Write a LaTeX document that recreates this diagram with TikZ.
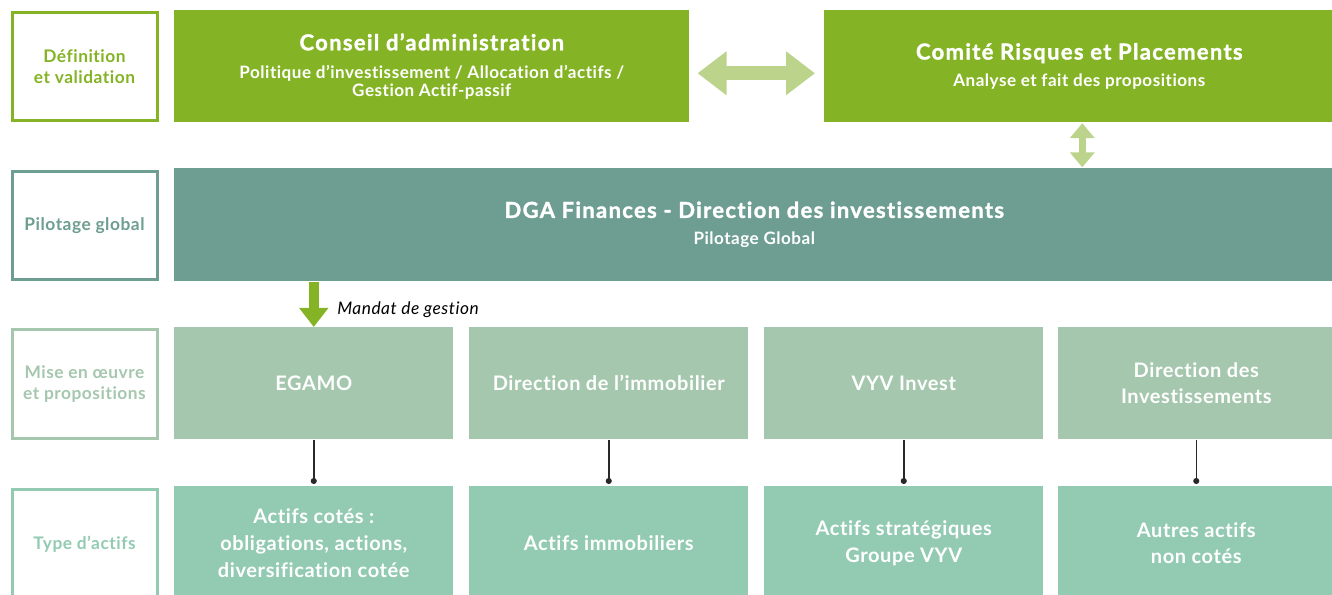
\documentclass[tikz,border=0pt]{standalone}
\usepackage{fontspec}
\setmainfont{Lato}[LetterSpace=3, Ligatures=NoCommon]
\newfontfamily\titlefam{Lato}[LetterSpace=6, Ligatures=NoCommon, BoldFeatures={FakeBold=1.5}]
\usetikzlibrary{arrows.meta}
\definecolor{cgreen}{RGB}{132,180,37}
\definecolor{clight}{RGB}{187,211,138}
\definecolor{cteal}{RGB}{110,158,145}
\definecolor{csage}{RGB}{165,199,174}
\definecolor{cmint}{RGB}{147,203,178}
\definecolor{cline}{RGB}{40,40,40}
\newcommand\titlef{\titlefam\bfseries\fontsize{16.5}{17}\selectfont}
\begin{document}
\begin{tikzpicture}[x=0.75pt,y=-0.75pt,
  box/.style={anchor=north west, inner sep=0pt, text=white, align=center,
    font=\bfseries\fontsize{15}{20}\selectfont},
  topbox/.style={box, font=\bfseries\fontsize{12.8}{13.5}\selectfont},
  lbl/.style={anchor=north west, draw=#1, text=#1, line width=2.25pt, fill=white, inner sep=0pt,
    align=center, minimum width=108.75pt, minimum height=81pt,
    font=\bfseries\fontsize{13}{15.75}\selectfont},
  link/.style={draw=cline, line width=1.1pt, -{Circle[length=4.5pt]}, shorten >=1.5pt},
]
\useasboundingbox (0,0) rectangle (1332,595);
\clip (0,0) rectangle (1332,595);

% left labels
\node[lbl=cgreen] (ldef) at (10.5,11.5) {Définition\\et validation};
\node[lbl=cteal] (lpil) at (10.5,170.5) {Pilotage global};
\node[lbl=csage] (lmise) at (10.5,328.5) {Mise en œuvre\\et propositions};
\node[lbl=cmint, minimum height=83.25pt] (ltype) at (10.5,487.5) {Type d’actifs};

% row 1
\node[topbox, fill=cgreen, minimum width={515*0.75pt}, minimum height={112*0.75pt}] (conseil) at (174,10)
  {{\titlef Conseil d’administration}\\[7.5pt]Politique d’investissement / Allocation d’actifs /\\Gestion Actif-passif};
\node[topbox, fill=cgreen, minimum width={510*0.75pt}, minimum height={112*0.75pt}] (comite) at (824,10)
  {{\titlef Comité Risques et Placements}\\[6.75pt]Analyse et fait des propositions};

% row 2
\node[topbox, fill=cteal, minimum width={1160*0.75pt}, minimum height={113*0.75pt}] (dga) at (174,168)
  {{\titlef DGA Finances - Direction des investissements}\\[6.75pt]Pilotage Global};

% row 3
\node[box, fill=csage, minimum width={279*0.75pt}, minimum height={112*0.75pt}] (egamo) at (174,327) {EGAMO};
\node[box, fill=csage, minimum width={279*0.75pt}, minimum height={112*0.75pt}] (immo) at (469,327) {Direction de l’immobilier};
\node[box, fill=csage, minimum width={279*0.75pt}, minimum height={112*0.75pt}] (vyv) at (764,327) {VYV Invest};
\node[box, fill=csage, minimum width={276*0.75pt}, minimum height={112*0.75pt}] (dirinv) at (1058,327) {Direction des\\Investissements};

% row 4
\node[box, fill=cmint, minimum width={279*0.75pt}, minimum height={114*0.75pt}] (cotes) at (174,486) {Actifs cotés :\\obligations, actions,\\diversification cotée};
\node[box, fill=cmint, minimum width={279*0.75pt}, minimum height={114*0.75pt}] (aimmo) at (469,486) {Actifs immobiliers};
\node[box, fill=cmint, minimum width={279*0.75pt}, minimum height={114*0.75pt}] (astrat) at (764,486) {Actifs stratégiques\\Groupe VYV};
\node[box, fill=cmint, minimum width={276*0.75pt}, minimum height={114*0.75pt}] (autres) at (1058,486) {Autres actifs\\non cotés};

% arrows
\draw[clight, line width=10.5pt, {Triangle[width=31.5pt,length=21.75pt]}-{Triangle[width=31.5pt,length=21.75pt]},
  shorten <=6pt, shorten >=6.75pt]
  ([yshift=-5.25pt]conseil.east) -- ([yshift=-5.25pt]comite.west);
\coordinate (vtop) at ([xshift=2.25pt]comite.south);
\draw[clight, line width=5.25pt, {Triangle[width=18pt,length=11.25pt]}-{Triangle[width=18pt,length=11.25pt]},
  shorten <=0.5pt, shorten >=0.5pt]
  (vtop) -- (vtop |- dga.north);
\draw[cgreen, line width=7.5pt, -{Triangle[width=21pt,length=14.25pt]}]
  (egamo.north |- dga.south) -- (egamo.north);
\node[anchor=base west, inner sep=0pt, font=\itshape\fontsize{13}{15}\selectfont] (mandat) at (337,315) {Mandat de gestion};

% connectors
\draw[link] (egamo.south) -- (cotes.north);
\draw[link] (immo.south) -- (aimmo.north);
\draw[link] (vyv.south) -- (astrat.north);
\draw[link] (dirinv.south) -- (autres.north);
\end{tikzpicture}
\end{document}
